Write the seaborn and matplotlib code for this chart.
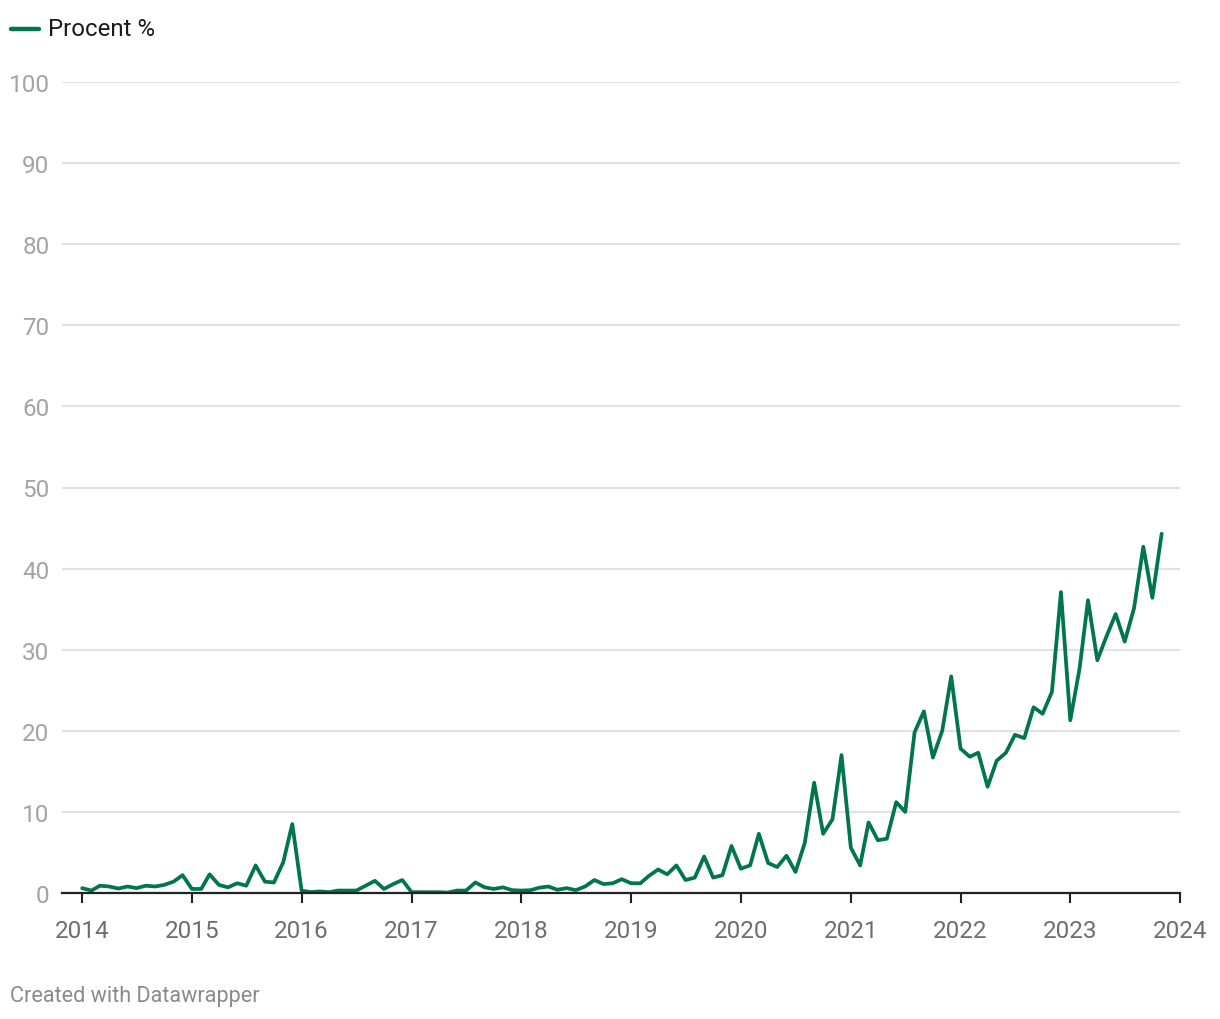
import pandas as pd
import seaborn as sns
import matplotlib.pyplot as plt
import matplotlib.dates as mdates

# monthly share, Jan 2014 - Nov 2023
procent = [
    0.6, 0.3, 0.9, 0.8, 0.55, 0.8, 0.6, 0.9, 0.8, 1.0, 1.4, 2.2,      # 2014
    0.5, 0.5, 2.3, 1.0, 0.7, 1.2, 0.9, 3.4, 1.4, 1.3, 3.8, 8.5,       # 2015
    0.3, 0.1, 0.2, 0.1, 0.3, 0.3, 0.3, 0.9, 1.5, 0.5, 1.1, 1.6,       # 2016
    0.1, 0.1, 0.1, 0.1, 0.05, 0.3, 0.3, 1.3, 0.7, 0.5, 0.7, 0.35,     # 2017
    0.3, 0.35, 0.65, 0.8, 0.4, 0.6, 0.35, 0.8, 1.6, 1.1, 1.2, 1.7,    # 2018
    1.2, 1.2, 2.1, 2.9, 2.3, 3.4, 1.6, 1.9, 4.5, 1.9, 2.2, 5.8,       # 2019
    3.0, 3.4, 7.3, 3.7, 3.2, 4.6, 2.6, 6.2, 13.6, 7.3, 9.1, 17.0,     # 2020
    5.6, 3.4, 8.7, 6.5, 6.7, 11.2, 10.0, 19.8, 22.4, 16.7, 20.0, 26.7,  # 2021
    17.8, 16.8, 17.3, 13.1, 16.3, 17.3, 19.5, 19.1, 22.9, 22.1, 24.8, 37.1,  # 2022
    21.3, 27.7, 36.1, 28.7, 31.6, 34.4, 31.0, 35.1, 42.7, 36.4, 44.3,  # 2023
]
months = pd.date_range("2014-01-01", periods=len(procent), freq="MS")
year_ticks = list(range(2014, 2025))
y_ticks = list(range(0, 101, 10))

df = pd.DataFrame({"date": months, "Procent %": procent})

green = "#00764a"

sns.set_theme(style="white")
plt.rcParams["font.family"] = ["Roboto", "DejaVu Sans"]

fig = plt.figure(figsize=(12.2, 10.2), dpi=100)
ax = fig.add_axes([62 / 1220, 1 - 894 / 1020, (1180 - 62) / 1220, (894 - 83) / 1020])

sns.lineplot(data=df, x="date", y="Procent %", ax=ax, color=green,
             linewidth=2.7, legend=False, solid_joinstyle="round", solid_capstyle="round")

ax.set_ylim(0, 100)
ax.set_xlim(pd.Timestamp("2014-01-01") - pd.Timedelta(days=67), pd.Timestamp("2024-01-01"))

ax.set_yticks(y_ticks)
ax.set_yticklabels([str(t) for t in y_ticks])
ax.set_xticks([pd.Timestamp(f"{y}-01-01") for y in year_ticks])
ax.xaxis.set_major_formatter(mdates.DateFormatter("%Y"))

ax.yaxis.grid(True, color="#e2e2e2", linewidth=1.5)
ax.set_axisbelow(True)
for s in ["top", "right", "left"]:
    ax.spines[s].set_visible(False)
ax.spines["bottom"].set_color("#222222")
ax.spines["bottom"].set_linewidth(1.6)
ax.spines["bottom"].set_zorder(3)

ax.tick_params(axis="y", length=0, pad=9, labelsize=17.5, labelcolor="#a3a3a3")
ax.tick_params(axis="x", length=7, width=1.5, color="#222222", pad=12,
               labelsize=17.5, labelcolor="#6e6e6e", bottom=True)
ax.set_xlabel("")
ax.set_ylabel("")

# legend
fig.lines.append(plt.Line2D([11 / 1220, 39 / 1220], [1 - 30 / 1020] * 2,
                            transform=fig.transFigure, color=green, linewidth=3.2,
                            solid_capstyle="round"))
fig.text(48 / 1220, 1 - 30 / 1020, "Procent %", fontsize=17.3, color="#1a1a1a",
         va="center", ha="left")

fig.text(10 / 1220, 1 - 997 / 1020, "Created with Datawrapper", fontsize=15.6,
         color="#8a8a8a", va="center", ha="left")

fig.savefig("out.png", dpi=100, facecolor="white")
